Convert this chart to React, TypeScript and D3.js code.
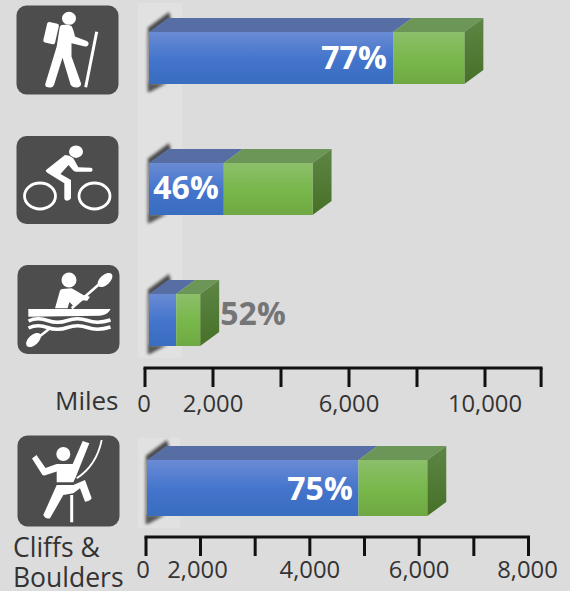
import React from "react";
import * as d3 from "d3";

const categories = ["Hiking", "Biking", "Paddling", "Climbing"];
const blueValues = [7180, 2200, 800, 4890];
const greenValues = [2095, 2610, 705, 1258];
const shareLabels = ["77%", "46%", "52%", "75%"];
const milesTicks = [0, 2000, 4000, 6000, 8000, 10000, 11650];
const milesLabels = [0, 2000, 6000, 10000];
const cliffTicks = [0, 2000, 3000, 4000, 5000, 6000, 7000, 8000];
const cliffLabels = [0, 2000, 4000, 6000, 8000];

const fmt = d3.format(",");
const milesBarScale = d3.scaleLinear().domain([0, 10000]).range([149, 489]);
const cliffBarScale = d3.scaleLinear().domain([0, 2000, 8000]).range([147, 200.5, 528.5]);
const scales = [milesBarScale, milesBarScale, milesBarScale, cliffBarScale];
const fronts = [32, 163, 294, 460];
const barH = [52, 52, 52, 56];
const labelCenter = [354, 186, 253, 320];
const labelBase = [69, 199, 325, 500];
const DX = 19;
const DY = 14;
const FONT = "'Open Sans', sans-serif";

function Bar({ i }: { i: number }) {
  const s = scales[i];
  const x0 = s(0);
  const x1 = s(blueValues[i]);
  const x2 = s(blueValues[i] + greenValues[i]);
  const y = fronts[i];
  const h = barH[i];
  return (
    <g>
      <g filter="url(#soft)" opacity={0.9}>
        <path d={`M${x0 - 1.5},${y - 4}L${x0 + 20},${y - 20}L${x0 + 22},${y - 13}L${x0},${y + 3}Z`} fill="#3a3a3a" />
        <path d={`M${x0 - 1.5},${y}H${x0 + 1}V${y + h}H${x0 - 1.5}Z`} fill="#555" />
        <path d={`M${x0 - 1.5},${y + h - 1}H${x0 + 18}L${x0 + 1},${y + h + 8}H${x0 - 1.5}Z`} fill="#4a4a4a" />
      </g>
      <path d={`M${x0},${y}L${x0 + DX},${y - DY}H${x1 + DX}L${x1},${y}Z`} fill="#566ea3" />
      <path d={`M${x1},${y}L${x1 + DX},${y - DY}H${x2 + DX}L${x2},${y}Z`} fill="#6c9558" />
      <path d={`M${x2},${y}L${x2 + DX},${y - DY}V${y + h - DY}L${x2},${y + h}Z`} fill="url(#side)" />
      <rect x={x0} y={y} width={x1 - x0} height={h} fill="url(#blue)" />
      <rect x={x1} y={y} width={x2 - x1} height={h} fill="url(#green)" />
      <text
        x={labelCenter[i]}
        y={labelBase[i]}
        textAnchor="middle"
        fontFamily={FONT}
        fontWeight={700}
        fontSize={32}
        fill={i === 2 ? "#757577" : "#fff"}
      >
        {shareLabels[i]}
      </text>
    </g>
  );
}

function Axis({ scale, ticks, labels, y, tickLen, labelY, nudge }: any) {
  const last = scale(ticks[ticks.length - 1]);
  return (
    <g>
      <line x1={scale(0) - 1.5} x2={last + 1.5} y1={y} y2={y} stroke="#111" strokeWidth={3} />
      {ticks.map((t: number) => (
        <line key={t} x1={scale(t)} x2={scale(t)} y1={y} y2={y + tickLen} stroke="#111" strokeWidth={3} />
      ))}
      {labels.map((t: number) => (
        <text
          key={t}
          x={scale(t) + (nudge[t] || 0)}
          y={labelY}
          textAnchor="middle"
          fontFamily={FONT}
          fontSize={23.8}
          fill="#333"
        >
          {fmt(t)}
        </text>
      ))}
    </g>
  );
}

function Tile({ x, y, w, h, children }: any) {
  return (
    <g transform={`translate(${x},${y})`}>
      <rect width={w} height={h} rx={10} fill="#4d4d4d" />
      {children}
    </g>
  );
}

const W = "#fff";

function Hiker() {
  return (
    <Tile x={16.5} y={5.5} w={102} h={89}>
      <ellipse cx={52.5} cy={12.8} rx={7} ry={6.5} fill={W} />
      <rect x={28.5} y={17} width={12} height={21} rx={2} transform="rotate(13 34 28)" fill={W} />
      <path
        d="M45,19.5Q51,18.5 55,20.5Q57,24 58.5,31L70.8,35.7Q73,37.5 71.8,39.5Q70.5,41.5 68.5,41L55,37.8L55,51L64.5,77.8Q65,81 61,82Q56.5,82.5 54.2,79.5L46,52.3L37.5,79.5Q36,82.5 33.5,82Q28,82 28.8,78.5L40.2,41L42.8,24.5Q43,20.5 45,19.5Z"
        fill={W}
      />
      <path d="M80.2,26.2L69.2,81.8" stroke={W} strokeWidth={3} />
    </Tile>
  );
}

function Biker() {
  return (
    <Tile x={16.5} y={136} w={102} h={88}>
      <ellipse cx={59.5} cy={15.7} rx={7} ry={6.2} fill={W} />
      <path
        d="M48.5,19Q53,19 56.8,22.3L61.8,31.3L74.5,31.7Q76.5,32 76,34Q76,35.7 74.5,35.7L59.5,35.7Q57,35.5 55.5,33L52,29L44,38L54.5,44L54.5,62.3Q53,64.7 50.8,64.7Q48,64.7 47.8,62.3L47.8,47.3L30.8,36.7Q28.5,35 29.5,34Z"
        fill={W}
      />
      <ellipse cx={23.5} cy={60} rx={15.5} ry={13} fill="none" stroke={W} strokeWidth={2.8} />
      <ellipse cx={78} cy={60} rx={15.5} ry={13} fill="none" stroke={W} strokeWidth={2.8} />
    </Tile>
  );
}

function Kayaker() {
  return (
    <Tile x={17.5} y={265} w={102} h={89}>
      <circle cx={51.5} cy={15} r={7.5} fill={W} />
      <path
        d="M37.5,43.3L42.5,25.5Q43,24 45,24L54.2,23.3L65.8,30L72.5,31.7L69.8,35.7L62.5,35L56.5,41.7L52,37L50,43.3Z"
        fill={W}
      />
      <path d="M54.2,43.3L83,18" stroke={W} strokeWidth={2.6} />
      <ellipse cx={87.5} cy={15} rx={9} ry={5} transform="rotate(-42 87.5 15)" fill={W} />
      <path d="M10.8,44H93.2Q90,50 82.5,50.7L10.8,51.7Z" fill={W} />
      <path d="M11,56Q20,52 30,55.5T50,55.5T70,55.5T93,55" stroke={W} strokeWidth={3.5} fill="none" />
      <path d="M11,63Q20,59 30,62.5T50,62.5T70,62.5T93,62" stroke={W} strokeWidth={3.5} fill="none" />
      <path d="M32.5,63.3L20,73" stroke={W} strokeWidth={2.6} />
      <ellipse cx={16} cy={75} rx={9} ry={5} transform="rotate(-42 16 75)" fill={W} />
    </Tile>
  );
}

function Climber() {
  return (
    <Tile x={17.5} y={435.5} w={102} h={91}>
      <circle cx={45.8} cy={18.5} r={7} fill={W} />
      <path
        d="M14.5,23L19,19.5L28,32.5L39.2,28.5H55.2L65.2,5.5L71.8,7.8L58.5,41L55.8,46.8H39.2V36L27,40Q25,40.5 24,38Z"
        fill={W}
      />
      <path
        d="M39.2,49.5H55.8L67.5,44.5L74.2,62.8Q72,66 67.5,66.2L62.5,52.8L55.8,57.8L45.8,59.5L32.5,82.8Q28,84 25.8,79.5Z"
        fill={W}
      />
      <rect x={52.7} y={59.5} width={3} height={27.3} fill={W} />
      <path d="M84.2,4.5Q79,30 59.2,42.8" stroke={W} strokeWidth={1.8} fill="none" />
    </Tile>
  );
}

export default function App() {
  return (
    <svg
      width={570}
      height={591}
      style={{ position: "fixed", left: 0, top: 0, background: "#dcdcdc", display: "block" }}
    >
      <defs>
        <linearGradient id="blue" x1="0" x2="0" y1="0" y2="1">
          <stop offset="0" stopColor="#6a8bd4" />
          <stop offset="0.55" stopColor="#4274cc" />
          <stop offset="1" stopColor="#396dbe" />
        </linearGradient>
        <linearGradient id="green" x1="0" x2="0" y1="0" y2="1">
          <stop offset="0" stopColor="#8cbf6a" />
          <stop offset="0.55" stopColor="#77b74a" />
          <stop offset="1" stopColor="#6fa843" />
        </linearGradient>
        <linearGradient id="side" x1="0" x2="0" y1="0" y2="1">
          <stop offset="0" stopColor="#5d8645" />
          <stop offset="1" stopColor="#477028" />
        </linearGradient>
        <filter id="soft" x="-60%" y="-40%" width="220%" height="180%">
          <feGaussianBlur stdDeviation="1.8" />
        </filter>
      </defs>

      <rect x={138} y={3} width={44} height={355} fill="#e1e1e1" />
      <rect x={138} y={438} width={42} height={90} fill="#e1e1e1" />

      {categories.map((c, i) => (
        <Bar key={c} i={i} />
      ))}

      <Hiker />
      <Biker />
      <Kayaker />
      <Climber />

      <Axis
        scale={d3.scaleLinear().domain([0, 10000]).range([145, 485])}
        ticks={milesTicks}
        labels={milesLabels}
        y={368}
        tickLen={19}
        labelY={412}
        nudge={{ 0: -1 }}
      />
      <Axis
        scale={d3.scaleLinear().domain([0, 2000, 8000]).range([146, 200.5, 528.5])}
        ticks={cliffTicks}
        labels={cliffLabels}
        y={537}
        tickLen={19}
        labelY={578}
        nudge={{ 0: -3, 2000: -3, 8000: -1 }}
      />

      <text x={55} y={410} fontFamily={FONT} fontSize={26} fill="#333">Miles</text>
      <text x={13} y={557} fontFamily={FONT} fontSize={26.5} fill="#333">Cliffs &amp;</text>
      <text x={13} y={587} fontFamily={FONT} fontSize={26.5} fill="#333">Boulders</text>
    </svg>
  );
}
